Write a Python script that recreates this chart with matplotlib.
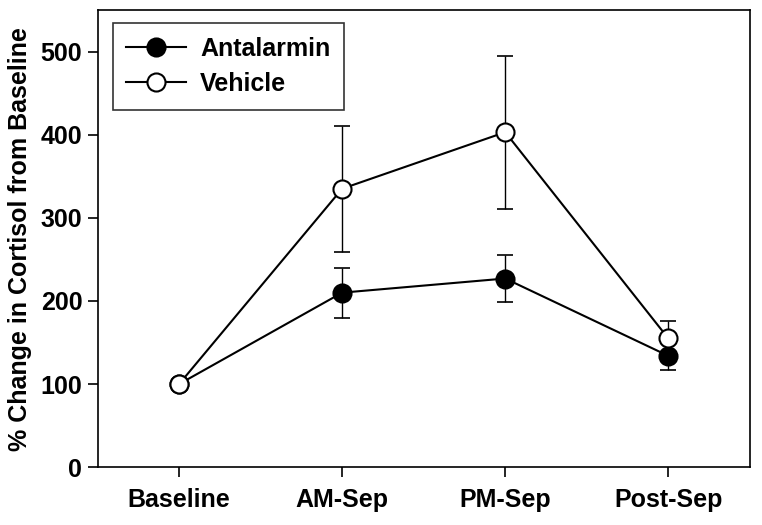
import numpy as np
import matplotlib.pyplot as plt

plt.rcParams['font.family'] = ['Liberation Sans', 'DejaVu Sans']

phases = ["Baseline", "AM-Sep", "PM-Sep", "Post-Sep"]
antalarmin = [100, 210, 227, 134]
antalarmin_err = [0, 30, 28, 17]
vehicle = [100, 335, 403, 155]
vehicle_err = [0, 76, 92, 21]

fig, ax = plt.subplots(figsize=(7.62, 5.25), dpi=100)
x = np.arange(len(phases))

# error bars first (skip baseline, no error there)
ax.errorbar(x[1:], antalarmin[1:], yerr=antalarmin_err[1:], fmt="none",
            ecolor="black", capsize=6, elinewidth=1, capthick=1.2, zorder=2)
ax.errorbar(x[1:], vehicle[1:], yerr=vehicle_err[1:], fmt="none",
            ecolor="black", capsize=6, elinewidth=1, capthick=1.2, zorder=2)

ax.plot(x, antalarmin, color="black", lw=1.5, marker="o", ms=13,
        mfc="black", mec="black", mew=1.5, label="Antalarmin", zorder=3)
ax.plot(x, vehicle, color="black", lw=1.5, marker="o", ms=13,
        mfc="white", mec="black", mew=1.5, label="Vehicle", zorder=4)

ax.set_xlim(-0.5, 3.5)
ax.set_ylim(0, 550)
ax.set_yticks([0, 100, 200, 300, 400, 500])
ax.set_xticks(x)
ax.set_xticklabels(phases, fontsize=18, fontweight="bold")
for lbl in ax.get_yticklabels():
    lbl.set_fontsize(18)
    lbl.set_fontweight("bold")
ax.tick_params(direction="out", length=7, width=1.2, pad=4)
ax.tick_params(axis="x", pad=8)
for s in ax.spines.values():
    s.set_linewidth(1.2)
ax.set_ylabel("% Change in Cortisol from Baseline", fontsize=18,
              fontweight="bold", labelpad=6)

leg = ax.legend(loc="upper left", frameon=True, fancybox=False,
                edgecolor="black", borderpad=0.55, handlelength=2.4,
                handletextpad=0.55, labelspacing=0.45, borderaxespad=0,
                bbox_to_anchor=(0.023, 0.972),
                prop={"weight": "bold", "size": 18})
leg.get_frame().set_linewidth(1.2)

fig.subplots_adjust(left=0.128, right=0.984, top=0.981, bottom=0.11)
fig.savefig("out.png", dpi=100)
